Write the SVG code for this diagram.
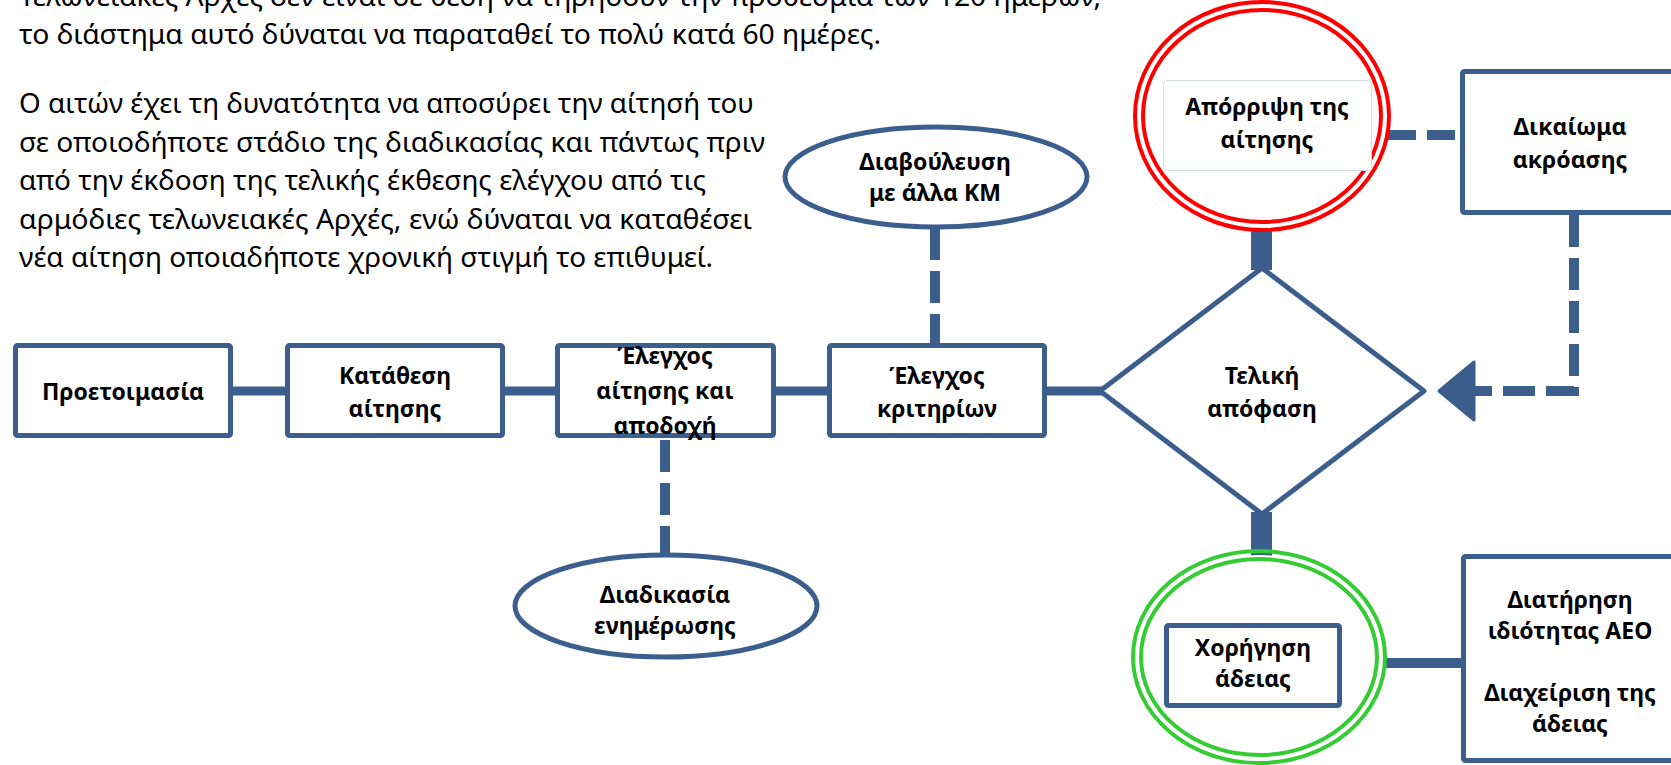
<svg xmlns="http://www.w3.org/2000/svg" width="1671" height="765" viewBox="0 0 1671 765">
<style>
.box{fill:#fff;stroke:#3B5E8C;stroke-width:5;stroke-linejoin:round}
.lbl{font-family:"Noto Sans","DejaVu Sans",sans-serif;font-weight:bold;font-size:23px;fill:#000;text-anchor:middle}
.para{font-family:"Noto Sans","DejaVu Sans",sans-serif;font-size:27px;fill:#000}
.solid{stroke:#3B5E8C;stroke-width:9;fill:none}
.bar{fill:#3B5E8C}
.dash{stroke:#3B5E8C;stroke-width:10;fill:none;stroke-dasharray:32 11}
.red{fill:none;stroke:#FF0000;stroke-width:4}
.green{fill:none;stroke:#33CC33;stroke-width:4}
</style>

<g id="notes">
<text class="para" x="19" y="6" textLength="1082" lengthAdjust="spacingAndGlyphs">Τελωνειακές Αρχές δεν είναι σε θέση να τηρήσουν την προθεσμία των 120 ημερών,</text>
<text class="para" x="19" y="44" textLength="862" lengthAdjust="spacingAndGlyphs">το διάστημα αυτό δύναται να παραταθεί το πολύ κατά 60 ημέρες.</text>
<text class="para" x="19" y="113" textLength="735" lengthAdjust="spacingAndGlyphs">Ο αιτών έχει τη δυνατότητα να αποσύρει την αίτησή του</text>
<text class="para" x="19" y="151.5" textLength="746" lengthAdjust="spacingAndGlyphs">σε οποιοδήποτε στάδιο της διαδικασίας και πάντως πριν</text>
<text class="para" x="19" y="190" textLength="687" lengthAdjust="spacingAndGlyphs">από την έκδοση της τελικής έκθεσης ελέγχου από τις</text>
<text class="para" x="19" y="228.5" textLength="733" lengthAdjust="spacingAndGlyphs">αρμόδιες τελωνειακές Αρχές, ενώ δύναται να καταθέσει</text>
<text class="para" x="19" y="267" textLength="694" lengthAdjust="spacingAndGlyphs">νέα αίτηση οποιαδήποτε χρονική στιγμή το επιθυμεί.</text>
</g>

<g id="connectors">
<line class="solid" x1="232" y1="391" x2="287" y2="391"/>
<line class="solid" x1="504" y1="391" x2="557" y2="391"/>
<line class="solid" x1="775" y1="391" x2="829" y2="391"/>
<line class="solid" x1="1046" y1="391" x2="1102" y2="391"/>
<rect class="bar" x="1251" y="229" width="21" height="41"/>
<rect class="bar" x="1251" y="512" width="21" height="46"/>
<line class="solid" x1="1383" y1="663" x2="1463" y2="663" style="stroke-width:10"/>
<path class="dash" d="M935,228 V344"/>
<path class="dash" d="M665,440 V556"/>
<path class="dash" d="M1388,135 H1460" style="stroke-dasharray:28 11"/>
<path class="dash" d="M1574,215 V391 H1472"/>
<polygon points="1439,391 1474,362 1474,420" fill="#3B5E8C" stroke="#3B5E8C" stroke-width="3" stroke-linejoin="round"/>
</g>

<g id="n-proetoimasia">
<rect class="box" x="15.5" y="345.5" width="215" height="90" rx="2"/>
<text class="lbl" x="123" y="400">Προετοιμασία</text>
</g>

<g id="n-katathesi">
<rect class="box" x="287.5" y="345.5" width="215" height="90" rx="2"/>
<text class="lbl" x="395" y="384">Κατάθεση</text>
<text class="lbl" x="395" y="417">αίτησης</text>
</g>

<g id="n-elegxos-aitisis">
<rect class="box" x="557.5" y="345.5" width="216" height="90" rx="2"/>
<text class="lbl" x="665" y="364">Έλεγχος</text>
<text class="lbl" x="665" y="399">αίτησης και</text>
<text class="lbl" x="665" y="434">αποδοχή</text>
</g>

<g id="n-elegxos-kritirion">
<rect class="box" x="829.5" y="345.5" width="215" height="90" rx="2"/>
<text class="lbl" x="937" y="384">Έλεγχος</text>
<text class="lbl" x="937" y="417">κριτηρίων</text>
</g>

<g id="n-diavouleusi">
<ellipse class="box" cx="936" cy="177" rx="151" ry="50"/>
<text class="lbl" x="935" y="170">Διαβούλευση</text>
<text class="lbl" x="935" y="201">με άλλα ΚΜ</text>
</g>

<g id="n-enimerosi">
<ellipse class="box" cx="666" cy="606" rx="151" ry="51"/>
<text class="lbl" x="665" y="603">Διαδικασία</text>
<text class="lbl" x="665" y="634">ενημέρωσης</text>
</g>

<g id="n-teliki">
<polygon class="box" points="1262,268 1424,391 1262,514 1100,391"/>
<text class="lbl" x="1262" y="384">Τελική</text>
<text class="lbl" x="1262" y="417">απόφαση</text>
</g>

<g id="n-aporripsi">
<ellipse class="red" cx="1262" cy="116" rx="127" ry="114"/>
<ellipse class="red" cx="1262" cy="116" rx="119" ry="106"/>
<rect x="1163.5" y="80.5" width="208" height="90" rx="3" fill="#fff" stroke="#D5DAE2" stroke-width="1"/>
<text class="lbl" x="1267" y="115">Απόρριψη της</text>
<text class="lbl" x="1267" y="148">αίτησης</text>
</g>

<g id="n-dikaioma">
<rect class="box" x="1462.5" y="71.5" width="216" height="141" rx="2"/>
<text class="lbl" x="1570" y="135">Δικαίωμα</text>
<text class="lbl" x="1570" y="168">ακρόασης</text>
</g>

<g id="n-xorigisi">
<ellipse cx="1259" cy="657" rx="122" ry="102" fill="#fff"/>
<ellipse class="green" cx="1259" cy="657" rx="126" ry="106"/>
<ellipse class="green" cx="1259" cy="657" rx="118" ry="98"/>
<rect class="box" x="1166.5" y="625.5" width="173" height="80" rx="2"/>
<text class="lbl" x="1253" y="656">Χορήγηση</text>
<text class="lbl" x="1253" y="687">άδειας</text>
</g>

<g id="n-diatirisi">
<rect class="box" x="1463.5" y="556.5" width="215" height="204" rx="2"/>
<text class="lbl" x="1570" y="608">Διατήρηση</text>
<text class="lbl" x="1570" y="639">ιδιότητας ΑΕΟ</text>
<text class="lbl" x="1570" y="701">Διαχείριση της</text>
<text class="lbl" x="1570" y="732">άδειας</text>
</g>
</svg>
